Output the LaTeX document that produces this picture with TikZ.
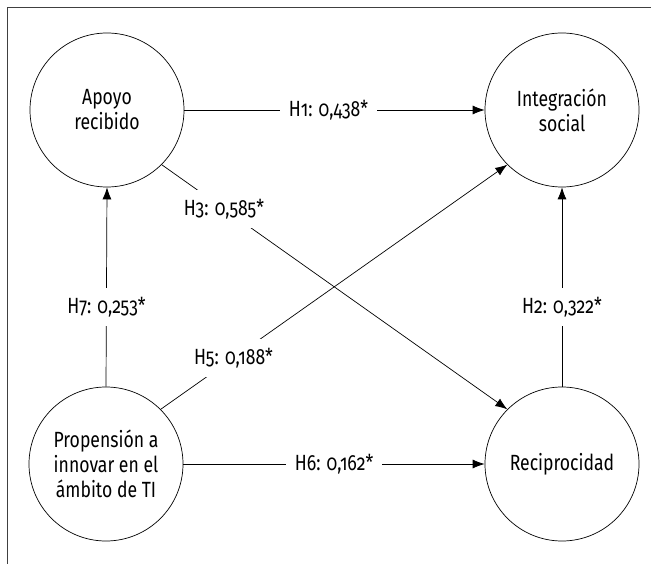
\documentclass[tikz,border=0pt]{standalone}
\usepackage{fontspec}
\setmainfont{Fira Sans}[FakeStretch=0.8, Numbers=OldStyle]
\usetikzlibrary{arrows.meta}

\tikzset{
  construct/.style={draw, circle, minimum size=154pt, inner sep=0pt, align=center, line width=0.7pt},
  path/.style={-{Latex[length=12pt, width=9pt]}, line width=0.7pt},
  coef/.style={fill=white, inner sep=9pt}
}

\begin{document}
\begin{tikzpicture}[x=1pt, y=-1pt, font=\fontsize{22}{25}\selectfont]

        \useasboundingbox (0,0) rectangle (651,564);

        % Frame (top and left only)
        \draw[black!75, line width=0.8pt] (651,7) -- (7,7) -- (7,564);

        % Constructs
        \node[construct] (apoyo) at (107,110) {Apoyo\\recibido};
        \node[construct] (integ) at (562,110) {Integración\\social};
        \node[construct] (prop) at (106,464) {Propensión a\\innovar en el\\ámbito de TI};
        \node[construct] (recip) at (562,464) {Reciprocidad};

        % Hypotheses
        \draw[path] (apoyo.east) -- node[coef, pos=0.48] {H1: 0,438*} (integ.west);
        \draw[path] (recip.north) -- node[coef, pos=0.4] {H2: 0,322*} (integ.south);
        \draw[path] (apoyo.south east) -- node[coef, pos=0.18] {H3: 0,585*} (recip.north west);
        \draw[path] (prop.north east) -- node[coef, pos=0.21] {H5: 0,188*} (integ.south west);
        \draw[path] (prop.east) -- node[coef, pos=0.5] {H6: 0,162*} (recip.west);
        \draw[path] (prop.north) -- node[coef, pos=0.4] {H7: 0,253*} (apoyo.south);

\end{tikzpicture}
\end{document}
